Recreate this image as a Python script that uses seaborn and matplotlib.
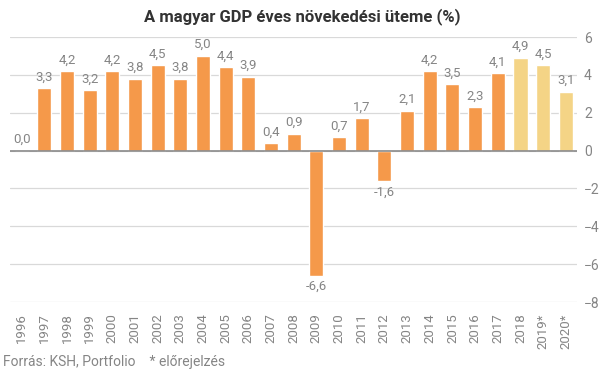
import pandas as pd
import seaborn as sns
import matplotlib.pyplot as plt

years = ["1996", "1997", "1998", "1999", "2000", "2001", "2002", "2003", "2004",
         "2005", "2006", "2007", "2008", "2009", "2010", "2011", "2012", "2013",
         "2014", "2015", "2016", "2017", "2018", "2019*", "2020*"]
growth = [0.0, 3.3, 4.2, 3.2, 4.2, 3.8, 4.5, 3.8, 5.0, 4.4, 3.9, 0.4, 0.9, -6.6,
          0.7, 1.7, -1.6, 2.1, 4.2, 3.5, 2.3, 4.1, 4.9, 4.5, 3.1]
kind = ["tény"] * 22 + ["előrejelzés"] * 3

df = pd.DataFrame({"Year": years, "GDP": growth, "Kind": kind})

sns.set_theme(style="white")
plt.rcParams["font.family"] = ["Roboto", "DejaVu Sans"]
grey = "#858585"

fig = plt.figure(figsize=(6.05, 3.78), dpi=100)
ax = fig.add_axes([0.017, 0.201, 0.937, 0.701])

ax.grid(axis="y", color="#d9d9d9", linewidth=0.9)
ax.set_axisbelow(True)
sns.barplot(data=df, x="Year", y="GDP", hue="Kind",
            palette={"tény": "#F5994A", "előrejelzés": "#F4D486"},
            saturation=1, dodge=False, width=0.62, legend=False, ax=ax)
ax.axhline(0, color="#8a8a8a", linewidth=1.2, zorder=3)

for i, v in enumerate(growth):
    y = v + 0.25 if v >= 0 else v - 0.25
    ax.text(i, y, f"{v:.1f}".replace(".", ","), ha="center",
            va="bottom" if v >= 0 else "top", color=grey, fontsize=9.5)

ax.set_ylim(-8, 6)
ax.set_xlim(-0.5, 24.5)
ax.set_yticks(range(-8, 7, 2))
ax.yaxis.tick_right()
ax.tick_params(axis="y", length=0, pad=5, labelsize=10, labelcolor=grey)
ax.tick_params(axis="x", length=0, pad=8, labelsize=9.5, labelcolor=grey, rotation=90)
ax.set_xlabel("")
ax.set_ylabel("")
for s in ax.spines.values():
    s.set_visible(False)

fig.text(0.5, 0.955, "A magyar GDP éves növekedési üteme (%)", ha="center",
         va="center", fontsize=12, fontweight="bold", color="#333333")
fig.text(0.005, 0.025, "Forrás: KSH, Portfolio    * előrejelzés", ha="left",
         va="bottom", fontsize=10, color=grey)

fig.savefig("out.png", dpi=100)
